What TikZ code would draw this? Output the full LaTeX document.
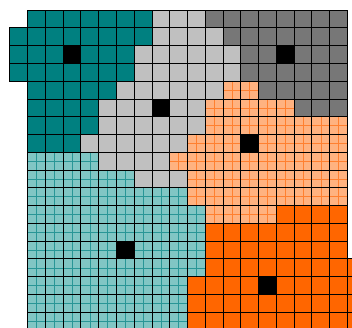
\documentclass[tikz,border=0pt]{standalone}
\usetikzlibrary{calc}
\definecolor{tealc}{RGB}{0,128,128}
\definecolor{lgray}{RGB}{192,192,192}
\definecolor{dgray}{RGB}{119,119,119}
\definecolor{orng}{RGB}{255,102,0}
\definecolor{lcyan}{RGB}{128,198,196}
\definecolor{cyline}{RGB}{40,150,150}
\definecolor{lorng}{RGB}{255,178,128}
\definecolor{orline}{RGB}{255,128,48}
\tikzset{
  fW/.style={},
  fT/.style={fill=tealc},
  fG/.style={fill=lgray},
  fD/.style={fill=dgray},
  fK/.style={fill=black},
  fO/.style={fill=orng},
  sublines/.style={path picture={
      \draw[#1,line width=0.7pt]
        (path picture bounding box.north) -- (path picture bounding box.south)
        (path picture bounding box.west) -- (path picture bounding box.east);}},
  fC/.style={fill=lcyan,sublines=cyline},
  fL/.style={fill=lorng,sublines=orline},
  gridline/.style={draw=black,line width=1pt}
}
\newcommand\celldata{%
{W,T,T,T,T,T,T,T,G,G,G,D,D,D,D,D,D,D,D,W},%
{T,T,T,T,T,T,T,T,G,G,G,G,D,D,D,D,D,D,D,W},%
{T,T,T,K,T,T,T,G,G,G,G,G,G,D,D,K,D,D,D,W},%
{T,T,T,T,T,T,T,G,G,G,G,G,G,D,D,D,D,D,D,W},%
{W,T,T,T,T,T,G,G,G,G,G,G,L,L,D,D,D,D,D,W},%
{W,T,T,T,T,G,G,G,K,G,G,L,L,L,L,L,D,D,D,W},%
{W,T,T,T,T,G,G,G,G,G,G,L,L,L,L,L,L,L,L,W},%
{W,T,T,T,G,G,G,G,G,G,L,L,L,K,L,L,L,L,L,W},%
{W,C,C,C,C,G,G,G,G,L,L,L,L,L,L,L,L,L,L,W},%
{W,C,C,C,C,C,C,G,G,G,L,L,L,L,L,L,L,L,L,W},%
{W,C,C,C,C,C,C,C,C,C,L,L,L,L,L,L,L,L,L,W},%
{W,C,C,C,C,C,C,C,C,C,C,L,L,L,L,O,O,O,O,W},%
{W,C,C,C,C,C,C,C,C,C,C,O,O,O,O,O,O,O,O,W},%
{W,C,C,C,C,C,K,C,C,C,C,O,O,O,O,O,O,O,O,W},%
{W,C,C,C,C,C,C,C,C,C,C,O,O,O,O,O,O,O,O,O},%
{W,C,C,C,C,C,C,C,C,C,O,O,O,O,K,O,O,O,O,O},%
{W,C,C,C,C,C,C,C,C,C,O,O,O,O,O,O,O,O,O,O},%
{W,C,C,C,C,C,C,C,C,C,O,O,O,O,O,O,O,O,O,O}}
\begin{document}
\begin{tikzpicture}[x=1pt,y=-1pt]
  \useasboundingbox (0,0) rectangle (352,328);
  \begin{scope}
    \clip (0,0) rectangle (352,328);
    % fills
    \foreach \r [count=\j from 0] in \celldata {
      \foreach \c [count=\i from 0] in \r {
        \path[f\c] ({9.9+17.77*\i},{10.2+17.77*\j}) rectangle ++(17.77,17.77);
      }
    }
    % borders
    \foreach \r [count=\j from 0] in \celldata {
      \foreach \c [count=\i from 0] in \r {
        \if\c W\else
          \path[gridline] ({9.9+17.77*\i},{10.2+17.77*\j}) rectangle ++(17.77,17.77);
        \fi
      }
    }
  \end{scope}
\end{tikzpicture}
\end{document}
